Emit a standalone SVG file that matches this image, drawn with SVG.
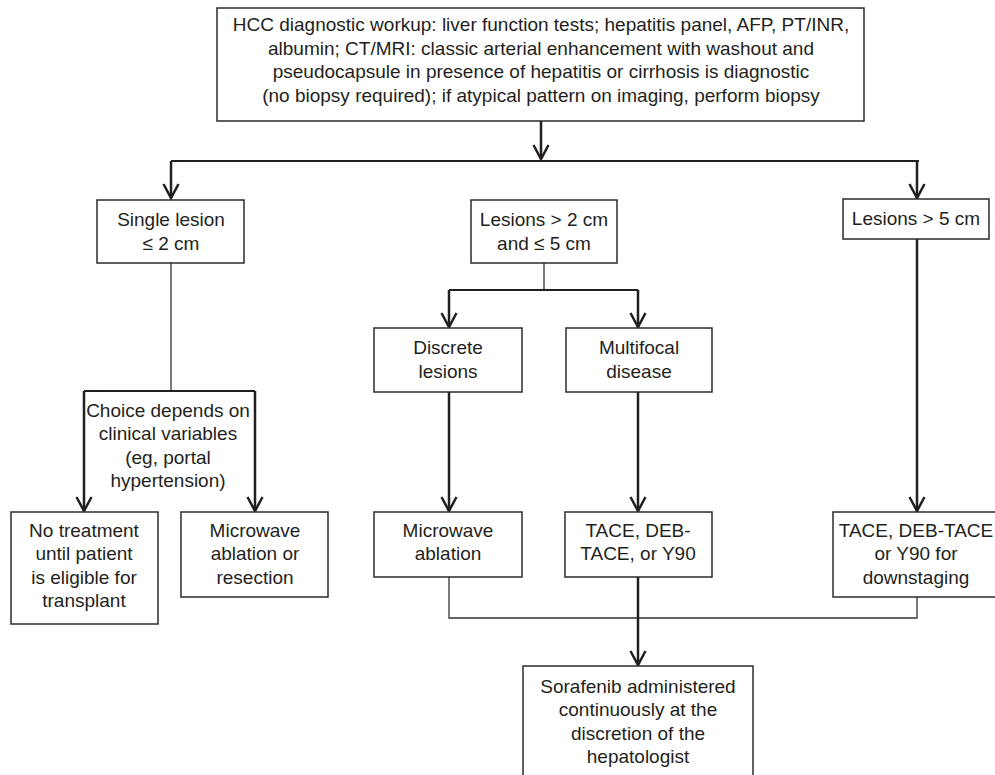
<svg xmlns="http://www.w3.org/2000/svg" width="995" height="775" viewBox="0 0 995 775">
<defs>
<style>
.box{fill:#fff;stroke:#2b2b2b;stroke-width:1.5}
.t{font-family:"Liberation Sans",Arial,sans-serif;font-size:19px;fill:#231f20;text-anchor:middle}
.thick{fill:none;stroke:#231f20;stroke-width:2.5}
.mid{fill:none;stroke:#231f20;stroke-width:2}
.thin{fill:none;stroke:#333;stroke-width:1.3}
</style>
<marker id="arr" markerUnits="userSpaceOnUse" markerWidth="20" markerHeight="20" refX="0" refY="0" orient="auto" overflow="visible">
<path d="M-14,-7.5 L0,0 L-14,7.5" fill="none" stroke="#231f20" stroke-width="2.5"/>
</marker>
</defs>
<rect width="995" height="775" fill="#fff"/>
<g id="connectors">
<path class="thick" d="M541,121 V159" marker-end="url(#arr)"/>
<path class="mid" d="M171,161 H919"/>
<path class="thick" d="M171,161 V198" marker-end="url(#arr)"/>
<path class="thick" d="M917,161 V198" marker-end="url(#arr)"/>
<path class="thin" d="M171,263 V391"/>
<path class="mid" d="M84,391 H255"/>
<path class="thick" d="M84,391 V511" marker-end="url(#arr)"/>
<path class="thick" d="M255,391 V511" marker-end="url(#arr)"/>
<path class="thin" d="M544,263 V290"/>
<path class="mid" d="M449,290 H638"/>
<path class="thick" d="M449,290 V327" marker-end="url(#arr)"/>
<path class="thick" d="M638,290 V327" marker-end="url(#arr)"/>
<path class="thick" d="M449,392 V511" marker-end="url(#arr)"/>
<path class="thick" d="M638,392 V511" marker-end="url(#arr)"/>
<path class="thick" d="M917,239 V511" marker-end="url(#arr)"/>
<path class="thin" d="M449,577 V618 H917 V597"/>
<path class="thick" d="M638,577 V665" marker-end="url(#arr)"/>
</g>
<g id="workup">
<rect class="box" x="217" y="8" width="647" height="113"/>
<text class="t" x="541" y="31">HCC diagnostic workup: liver function tests; hepatitis panel, AFP, PT/INR,</text>
<text class="t" x="541" y="55">albumin; CT/MRI: classic arterial enhancement with washout and</text>
<text class="t" x="541" y="78">pseudocapsule in presence of hepatitis or cirrhosis is diagnostic</text>
<text class="t" x="541" y="102">(no biopsy required); if atypical pattern on imaging, perform biopsy</text>
</g>
<g id="single">
<rect class="box" x="97" y="200" width="147" height="63"/>
<text class="t" x="171" y="226">Single lesion</text>
<text class="t" x="171" y="250">≤ 2 cm</text>
</g>
<g id="mid">
<rect class="box" x="471" y="200" width="146" height="63"/>
<text class="t" x="544" y="226">Lesions &gt; 2 cm</text>
<text class="t" x="544" y="250">and ≤ 5 cm</text>
</g>
<g id="gt5">
<rect class="box" x="843" y="199" width="146" height="40"/>
<text class="t" x="916" y="225">Lesions &gt; 5 cm</text>
</g>
<g id="choice">
<text class="t" x="168" y="417">Choice depends on</text>
<text class="t" x="168" y="440">clinical variables</text>
<text class="t" x="168" y="464">(eg, portal</text>
<text class="t" x="168" y="487">hypertension)</text>
</g>
<g id="discrete">
<rect class="box" x="374" y="328" width="148" height="64"/>
<text class="t" x="448" y="354">Discrete</text>
<text class="t" x="448" y="378">lesions</text>
</g>
<g id="multifocal">
<rect class="box" x="566" y="328" width="146" height="64"/>
<text class="t" x="639" y="354">Multifocal</text>
<text class="t" x="639" y="378">disease</text>
</g>
<g id="notreat">
<rect class="box" x="11" y="512" width="147" height="112"/>
<text class="t" x="84" y="537">No treatment</text>
<text class="t" x="84" y="560">until patient</text>
<text class="t" x="84" y="584">is eligible for</text>
<text class="t" x="84" y="607">transplant</text>
</g>
<g id="mwres">
<rect class="box" x="181" y="512" width="147" height="85"/>
<text class="t" x="255" y="537">Microwave</text>
<text class="t" x="255" y="560">ablation or</text>
<text class="t" x="255" y="584">resection</text>
</g>
<g id="mwabl">
<rect class="box" x="374" y="512" width="148" height="65"/>
<text class="t" x="448" y="537">Microwave</text>
<text class="t" x="448" y="560">ablation</text>
</g>
<g id="tace">
<rect class="box" x="565" y="512" width="147" height="65"/>
<text class="t" x="638" y="537">TACE, DEB-</text>
<text class="t" x="638" y="560">TACE, or Y90</text>
</g>
<g id="tace2">
<rect class="box" x="833" y="512" width="167" height="85"/>
<text class="t" x="916" y="537">TACE, DEB-TACE</text>
<text class="t" x="916" y="560">or Y90 for</text>
<text class="t" x="916" y="584">downstaging</text>
</g>
<g id="sorafenib">
<rect class="box" x="523" y="666" width="230" height="120"/>
<text class="t" x="638" y="693">Sorafenib administered</text>
<text class="t" x="638" y="716">continuously at the</text>
<text class="t" x="638" y="740">discretion of the</text>
<text class="t" x="638" y="763">hepatologist</text>
</g>
</svg>
